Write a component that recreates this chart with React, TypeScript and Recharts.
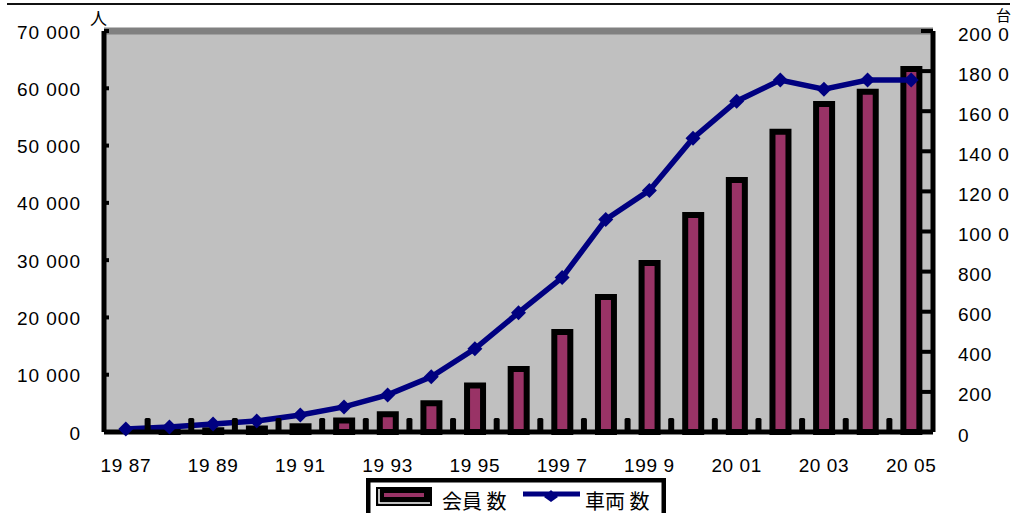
import React from "react";
import {
  Bar,
  CartesianGrid,
  ComposedChart,
  Line,
  ReferenceLine,
  XAxis,
  YAxis,
} from "recharts";

const YEARS = [
  "1987", "1988", "1989", "1990", "1991", "1992", "1993", "1994", "1995", "1996",
  "1997", "1998", "1999", "2000", "2001", "2002", "2003", "2004", "2005",
];

// only every other year gets a label
const YEAR_LABELS = [
  "19 87", "", "19 89", "", "19 91", "", "19 93", "", "19 95", "",
  "199 7", "", "199 9", "", "20 01", "", "20 03", "", "20 05",
];

// 会員数 (人)
const MEMBERS = [
  0, 100, 300, 600, 1000, 2000, 3100, 5000, 8100, 11000,
  17450, 23550, 29500, 37900, 44000, 52400, 57250, 59400, 63350,
];

// 車両数 (台)
const VEHICLES = [
  15, 25, 40, 55, 85, 125, 185, 275, 415, 595,
  770, 1060, 1205, 1465, 1650, 1755, 1710, 1755, 1755,
];

const LEFT_TICKS = [0, 10000, 20000, 30000, 40000, 50000, 60000, 70000];
const LEFT_TICK_LABELS = ["0", "10 000", "20 000", "30 000", "40 000", "50 000", "60 000", "70 000"];

const RIGHT_TICKS = [0, 200, 400, 600, 800, 1000, 1200, 1400, 1600, 1800, 2000];
const RIGHT_TICK_LABELS = ["0", "200", "400", "600", "800", "100 0", "120 0", "140 0", "160 0", "180 0", "200 0"];

const data = YEARS.map((year, i) => ({
  year,
  members: MEMBERS[i],
  vehicles: VEHICLES[i],
}));

const W = 1016;
const H = 513;
const LEFT_W = 104;
const RIGHT_W = 83;
const TOP = 31;
const X_AXIS_H = 81;
const BAND = (W - LEFT_W - RIGHT_W) / YEARS.length;

const FONT = "'Liberation Sans', Arial, sans-serif";
const CJK = "'Noto Sans CJK JP', 'Noto Sans CJK SC', sans-serif";
const BAR_FILL = "#993366";
const LINE_COLOR = "#000080";

function LeftTick({ x, y, payload }: any) {
  const label = LEFT_TICK_LABELS[LEFT_TICKS.indexOf(payload.value)];
  return (
    <g>
      <rect x={x} y={y - 2} width={5} height={4} fill="#000" />
      <text
        x={x - 23}
        y={y + 1}
        textAnchor="end"
        dominantBaseline="central"
        fontFamily={FONT}
        fontSize={19}
        letterSpacing={1}
        fill="#000"
      >
        {label}
      </text>
    </g>
  );
}

function RightTick({ x, y, payload }: any) {
  const label = RIGHT_TICK_LABELS[RIGHT_TICKS.indexOf(payload.value)];
  return (
    <g>
      <rect x={x - 12} y={y - 2} width={12} height={4} fill="#000" />
      <text
        x={x + 25}
        y={y + 3}
        textAnchor="start"
        dominantBaseline="central"
        fontFamily={FONT}
        fontSize={19}
        letterSpacing={0.8}
        fill="#000"
      >
        {label}
      </text>
    </g>
  );
}

function YearTick({ x, y, index }: any) {
  const last = index === YEARS.length - 1;
  return (
    <g>
      {!last && (
        <rect x={x + BAND / 2 - 3} y={y - 14} width={6} height={14} rx={1.5} fill="#000" />
      )}
      <text
        x={x}
        y={y + 33}
        textAnchor="middle"
        dominantBaseline="central"
        fontFamily={FONT}
        fontSize={19}
        letterSpacing={0.6}
        fill="#000"
      >
        {YEAR_LABELS[index]}
      </text>
    </g>
  );
}

function Diamond({ cx, cy }: any) {
  const r = 7.5;
  return (
    <polygon
      points={`${cx},${cy - r} ${cx + r},${cy} ${cx},${cy + r} ${cx - r},${cy}`}
      fill={LINE_COLOR}
    />
  );
}

function LegendBox() {
  return (
    <svg
      width={300}
      height={40}
      style={{ position: "absolute", left: 366, top: 478 }}
    >
      <rect x={2} y={2} width={296} height={40} fill="#fff" stroke="#000" strokeWidth={5} />
      <rect x={10} y={9} width={56} height={19} fill="#000" />
      <polyline points="13,11 13,25 64,25" fill="none" stroke="#fff" strokeWidth={1.5} />
      <rect x={18} y={15} width={40} height={4} fill={BAR_FILL} />
      <text x={76} y={22} dominantBaseline="central" fontFamily={CJK} fontSize={20} fill="#000">
        会員 数
      </text>
      <line x1={157} y1={16} x2={214} y2={16} stroke={LINE_COLOR} strokeWidth={5} />
      <polygon points="185,12 192,19 185,24 178,19" fill={LINE_COLOR} />
      <text x={219} y={22} dominantBaseline="central" fontFamily={CJK} fontSize={20} fill="#000">
        車両 数
      </text>
    </svg>
  );
}

export default function App() {
  return (
    <div style={{ position: "relative", width: W, height: H, overflow: "hidden", background: "#fff" }}>
      <style>{"body{margin:0}"}</style>
      <div style={{ position: "absolute", left: 7, right: 6, top: 3, height: 2, background: "#111" }} />
      <ComposedChart
        width={W}
        height={H}
        data={data}
        margin={{ top: TOP, right: 0, bottom: 0, left: 0 }}
        barCategoryGap={0}
      >
        <CartesianGrid fill="#c0c0c0" horizontal={false} vertical={false} />
        <XAxis
          dataKey="year"
          interval={0}
          height={X_AXIS_H}
          tickLine={false}
          tickSize={0}
          tickMargin={0}
          axisLine={{ stroke: "#000", strokeWidth: 5 }}
          tick={<YearTick />}
        />
        <YAxis
          yAxisId="left"
          domain={[0, 70000]}
          ticks={LEFT_TICKS}
          width={LEFT_W}
          tickLine={false}
          tickSize={0}
          tickMargin={0}
          axisLine={{ stroke: "#000", strokeWidth: 5 }}
          tick={<LeftTick />}
        />
        <YAxis
          yAxisId="right"
          orientation="right"
          domain={[0, 2000]}
          ticks={RIGHT_TICKS}
          width={RIGHT_W}
          tickLine={false}
          tickSize={0}
          tickMargin={0}
          axisLine={{ stroke: "#000", strokeWidth: 5 }}
          tick={<RightTick />}
        />
        <ReferenceLine yAxisId="left" y={70000} stroke="#808080" strokeWidth={7} />
        <Bar
          yAxisId="left"
          dataKey="members"
          barSize={16}
          fill={BAR_FILL}
          stroke="#000"
          strokeWidth={6}
          isAnimationActive={false}
        />
        <Line
          yAxisId="right"
          type="linear"
          dataKey="vehicles"
          stroke={LINE_COLOR}
          strokeWidth={5.5}
          dot={<Diamond />}
          activeDot={false}
          isAnimationActive={false}
        />
      </ComposedChart>
      <div
        style={{ position: "absolute", left: 90, top: 8, fontFamily: CJK, fontSize: 17, lineHeight: "20px" }}
      >
        人
      </div>
      <div
        style={{ position: "absolute", left: 996, top: 6, fontFamily: CJK, fontSize: 15, lineHeight: "17px" }}
      >
        台
      </div>
      <LegendBox />
    </div>
  );
}
